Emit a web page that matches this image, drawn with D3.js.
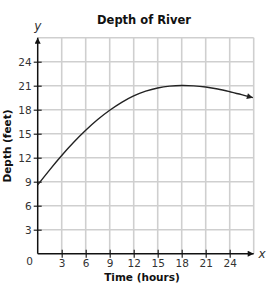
<!DOCTYPE html>
<html><head><meta charset="utf-8">
<script src="https://cdn.jsdelivr.net/npm/d3@7"></script>
<style>body{margin:0;background:#fff}</style>
</head><body>
<script>
const title = "Depth of River";
const xLabel = "Time (hours)";
const yLabel = "Depth (feet)";
const xTicks = [3, 6, 9, 12, 15, 18, 21, 24];
const yTicks = [3, 6, 9, 12, 15, 18, 21, 24];
const gridX = [3, 6, 9, 12, 15, 18, 21, 24, 27];
const gridY = [3, 6, 9, 12, 15, 18, 21, 24, 27];
const hours = [0, 1.5, 3, 4.5, 6, 7.5, 9, 10.5, 12, 13.5, 15, 16.5, 18, 19.5, 21, 22.5, 24, 25.5, 26.9];
const depth = [8.6, 10.5, 12.3, 13.95, 15.45, 16.8, 17.95, 18.95, 19.75, 20.35, 20.75, 20.97, 21.05, 21.0, 20.85, 20.6, 20.25, 19.9, 19.5];

const W = 280, H = 290;
const svg = d3.select("body").append("svg").attr("width", W).attr("height", H);
const x = d3.scaleLinear().domain([0, 27]).range([37.7, 253.7]);
const y = d3.scaleLinear().domain([0, 27]).range([253.7, 37.7]);
const font = "DejaVu Sans, Verdana, sans-serif";
const txt = "#333";

// grid
svg.append("g").selectAll("line").data(gridX).join("line")
  .attr("x1", d => x(d)).attr("x2", d => x(d)).attr("y1", y(0)).attr("y2", y(27))
  .attr("stroke", "#cfcfcf").attr("stroke-width", 1.6);
svg.append("g").selectAll("line").data(gridY).join("line")
  .attr("y1", d => y(d)).attr("y2", d => y(d)).attr("x1", x(0)).attr("x2", x(27))
  .attr("stroke", "#cfcfcf").attr("stroke-width", 1.6);

// markers
const defs = svg.append("defs");
defs.append("marker").attr("id", "ah").attr("viewBox", "0 0 10 10").attr("refX", 10).attr("refY", 5)
  .attr("markerWidth", 10).attr("markerHeight", 6).attr("markerUnits", "userSpaceOnUse").attr("orient", "auto")
  .append("path").attr("d", "M0,0L10,5L0,10z").attr("fill", "#111");
defs.append("marker").attr("id", "ch").attr("viewBox", "0 0 10 10").attr("refX", 10).attr("refY", 5)
  .attr("markerWidth", 9).attr("markerHeight", 6).attr("markerUnits", "userSpaceOnUse").attr("orient", "auto")
  .append("path").attr("d", "M0,0L10,5L0,10z").attr("fill", "#222");

// axes
const xAxis = svg.append("g").attr("transform", `translate(0,${y(0)})`)
  .call(d3.axisBottom(x).tickValues(xTicks).tickSize(0).tickPadding(0));
xAxis.select(".domain").remove();
xAxis.selectAll(".tick line").remove();
xAxis.selectAll(".tick").append("line").attr("y1", -4).attr("y2", 4).attr("stroke", "#222").attr("stroke-width", 1.2);
xAxis.selectAll("text").attr("y", 13.6).attr("dy", 0).attr("fill", txt).attr("font-size", 10.5).attr("font-family", font);

const yAxis = svg.append("g").attr("transform", `translate(${x(0)},0)`)
  .call(d3.axisLeft(y).tickValues(yTicks).tickSize(0).tickPadding(0));
yAxis.select(".domain").remove();
yAxis.selectAll(".tick line").remove();
yAxis.selectAll(".tick").append("line").attr("x1", -4).attr("x2", 4).attr("stroke", "#222").attr("stroke-width", 1.2);
yAxis.selectAll("text").attr("x", -6).attr("dy", "0.36em").attr("fill", txt).attr("font-size", 10.5).attr("font-family", font);

svg.append("line").attr("x1", x(0)).attr("x2", x(27)).attr("y1", y(0)).attr("y2", y(0))
  .attr("stroke", "#111").attr("stroke-width", 1.5).attr("marker-end", "url(#ah)");
svg.append("line").attr("x1", x(0)).attr("x2", x(0)).attr("y1", y(0)).attr("y2", y(27))
  .attr("stroke", "#111").attr("stroke-width", 1.5).attr("marker-end", "url(#ah)");

svg.append("text").attr("x", x(0) - 8).attr("y", y(0) + 11).attr("text-anchor", "middle")
  .attr("fill", txt).attr("font-size", 10.5).attr("font-family", font).text("0");

svg.append("text").attr("x", x(0)).attr("y", 30).attr("text-anchor", "middle").attr("font-style", "italic")
  .attr("fill", txt).attr("font-size", 12).attr("font-family", font).text("y");
svg.append("text").attr("x", 262).attr("y", y(0) + 4).attr("text-anchor", "middle").attr("font-style", "italic")
  .attr("fill", txt).attr("font-size", 12).attr("font-family", font).text("x");

// curve
const line = d3.line().x(d => x(d[0])).y(d => y(d[1])).curve(d3.curveBasis);
svg.append("path").datum(hours.map((h, i) => [h, depth[i]])).attr("d", line)
  .attr("fill", "none").attr("stroke", "#222").attr("stroke-width", 1.4).attr("marker-end", "url(#ch)");

// titles
svg.append("text").attr("x", 144).attr("y", 24).attr("text-anchor", "middle").attr("font-weight", "bold")
  .attr("fill", "#111").attr("font-size", 11.5).attr("font-family", font).text(title);
svg.append("text").attr("x", 142).attr("y", 281).attr("text-anchor", "middle").attr("font-weight", "bold")
  .attr("fill", "#111").attr("font-size", 10.5).attr("font-family", font).text(xLabel);
svg.append("text").attr("transform", "translate(11,146) rotate(-90)").attr("text-anchor", "middle").attr("font-weight", "bold")
  .attr("fill", "#111").attr("font-size", 10.5).attr("font-family", font).text(yLabel);
</script>
</body></html>
